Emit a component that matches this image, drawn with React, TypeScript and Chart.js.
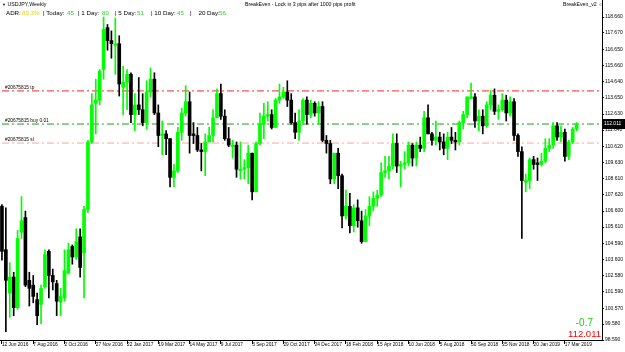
import React, { useEffect, useRef } from "react";
import { Chart, registerables } from "chart.js";

Chart.register(...registerables);

const weeks = [
  "12 Jun 2016","19 Jun 2016","26 Jun 2016","3 Jul 2016","10 Jul 2016","17 Jul 2016","24 Jul 2016","31 Jul 2016",
  "7 Aug 2016","14 Aug 2016","21 Aug 2016","28 Aug 2016","4 Sep 2016","11 Sep 2016","18 Sep 2016","25 Sep 2016",
  "2 Oct 2016","9 Oct 2016","16 Oct 2016","23 Oct 2016","30 Oct 2016","6 Nov 2016","13 Nov 2016","20 Nov 2016",
  "27 Nov 2016","4 Dec 2016","11 Dec 2016","18 Dec 2016","25 Dec 2016",
  "1 Jan 2017","8 Jan 2017","15 Jan 2017","22 Jan 2017","29 Jan 2017","5 Feb 2017","12 Feb 2017","19 Feb 2017",
  "26 Feb 2017","5 Mar 2017","12 Mar 2017","19 Mar 2017","26 Mar 2017","2 Apr 2017","9 Apr 2017","16 Apr 2017",
  "23 Apr 2017","30 Apr 2017","7 May 2017","14 May 2017","21 May 2017","28 May 2017","4 Jun 2017","11 Jun 2017",
  "18 Jun 2017","25 Jun 2017","2 Jul 2017","9 Jul 2017","16 Jul 2017","23 Jul 2017","30 Jul 2017","6 Aug 2017",
  "13 Aug 2017","20 Aug 2017","27 Aug 2017","3 Sep 2017","10 Sep 2017","17 Sep 2017","24 Sep 2017","1 Oct 2017",
  "8 Oct 2017","15 Oct 2017","22 Oct 2017","29 Oct 2017","5 Nov 2017","12 Nov 2017","19 Nov 2017","26 Nov 2017",
  "3 Dec 2017","10 Dec 2017","17 Dec 2017","24 Dec 2017","31 Dec 2017",
  "7 Jan 2018","14 Jan 2018","21 Jan 2018","28 Jan 2018","4 Feb 2018","11 Feb 2018","18 Feb 2018","25 Feb 2018",
  "4 Mar 2018","11 Mar 2018","18 Mar 2018","25 Mar 2018","1 Apr 2018","8 Apr 2018","15 Apr 2018","22 Apr 2018",
  "29 Apr 2018","6 May 2018","13 May 2018","20 May 2018","27 May 2018","3 Jun 2018","10 Jun 2018","17 Jun 2018",
  "24 Jun 2018","1 Jul 2018","8 Jul 2018","15 Jul 2018","22 Jul 2018","29 Jul 2018","5 Aug 2018","12 Aug 2018",
  "19 Aug 2018","26 Aug 2018","2 Sep 2018","9 Sep 2018","16 Sep 2018","23 Sep 2018","30 Sep 2018","7 Oct 2018",
  "14 Oct 2018","21 Oct 2018","28 Oct 2018","4 Nov 2018","11 Nov 2018","18 Nov 2018","25 Nov 2018","2 Dec 2018",
  "9 Dec 2018","16 Dec 2018","23 Dec 2018","30 Dec 2018",
  "6 Jan 2019","13 Jan 2019","20 Jan 2019","27 Jan 2019","3 Feb 2019","10 Feb 2019","17 Feb 2019","24 Feb 2019",
  "3 Mar 2019","10 Mar 2019","17 Mar 2019","24 Mar 2019","31 Mar 2019","7 Apr 2019"
];

const opens = [
  106.9,104.2,101.5,102.5,100.6,105.3,106.2,102.3,102.0,101.1,
  100.8,101.9,104.1,102.6,102.1,100.95,101.2,102.75,104.4,103.75,
  105.0,104.0,106.7,110.9,113.3,113.5,115.4,118.0,117.2,116.9,
  117.0,114.3,114.6,115.1,112.6,113.2,112.9,112.1,114.0,114.8,
  112.7,111.3,111.4,111.1,108.7,109.1,111.5,112.7,113.4,111.4,
  111.3,110.4,110.3,110.9,111.3,112.4,113.9,112.5,111.1,110.6,
  110.7,109.1,109.2,109.3,110.2,107.8,110.8,112.0,112.5,112.6,
  111.8,113.5,113.7,114.0,113.5,112.1,111.5,112.2,113.5,112.6,
  113.3,112.7,113.1,111.0,110.8,108.6,110.2,108.8,106.3,106.9,
  105.7,106.8,106.0,104.7,106.3,106.9,107.4,107.6,109.0,109.1,
  109.4,110.8,109.4,109.5,109.6,110.7,109.9,110.7,110.5,112.4,
  111.4,111.0,111.2,110.9,110.5,111.2,111.0,110.9,112.1,112.6,
  113.6,113.7,112.2,112.5,111.9,113.2,113.8,112.8,112.9,113.5,
  112.7,113.4,111.3,110.3,108.4,108.5,109.8,109.6,109.5,109.7,
  110.5,110.7,111.9,111.2,111.5,110.0,110.9,111.7
];
const highs = [
  107.0,106.8,103.4,102.8,105.4,107.5,106.6,102.8,102.6,101.5,
  102.0,104.2,104.2,103.0,102.3,101.8,104.2,104.6,104.5,105.5,
  105.5,106.9,111.0,113.9,114.8,115.4,118.66,118.2,117.8,118.6,
  117.5,115.6,115.4,115.2,113.9,114.9,113.9,114.7,115.5,115.2,
  113.2,112.2,111.6,111.1,109.5,111.8,113.0,114.4,114.0,112.1,
  111.8,110.8,111.4,111.8,112.9,114.2,114.5,112.9,111.8,111.0,
  110.9,110.9,109.8,110.7,110.2,110.9,112.7,113.3,113.4,112.9,
  113.6,114.5,114.3,114.7,113.9,112.7,112.9,113.6,113.7,113.5,
  113.4,113.4,113.4,111.3,111.0,110.2,110.5,108.9,107.9,107.7,
  107.0,107.3,106.6,106.7,107.5,107.8,107.9,109.6,110.0,110.0,
  111.4,111.4,109.7,110.3,110.9,110.8,110.9,111.2,112.8,113.2,
  111.5,112.2,111.5,111.4,111.5,111.8,111.5,112.2,112.8,113.7,
  114.55,113.9,112.9,112.9,113.4,114.1,114.2,113.2,113.9,113.8,
  113.7,113.6,111.4,110.6,108.9,109.9,110.0,109.9,110.2,111.1,
  111.1,112.1,112.1,111.9,111.7,111.0,111.8,112.1
];
const lows = [
  103.55,99.1,100.0,100.1,100.5,104.9,101.9,100.7,100.9,99.55,
  99.6,101.8,101.2,101.7,100.1,100.1,101.0,102.7,103.3,103.6,
  102.5,101.2,106.5,110.8,111.4,113.2,114.8,116.6,116.1,115.1,
  113.75,112.6,112.9,112.1,111.6,112.6,111.9,111.7,113.7,112.6,
  110.6,110.1,110.1,108.1,108.1,109.0,111.0,112.5,110.2,110.8,
  110.3,109.1,108.8,110.9,110.9,112.4,112.3,111.0,110.6,109.9,
  108.7,108.6,108.6,108.3,107.3,107.8,110.7,111.1,112.2,111.7,
  111.8,113.3,113.6,113.1,112.0,111.1,111.0,112.0,112.0,112.4,
  112.5,112.0,110.9,110.2,108.3,108.3,108.0,105.55,106.1,105.25,
  105.3,105.6,104.6,104.7,105.7,106.6,106.9,107.5,108.7,108.6,
  109.2,109.0,108.1,109.2,109.4,109.4,109.4,110.3,110.3,111.4,
  110.7,110.7,110.4,110.1,109.8,110.8,110.4,110.7,111.7,112.4,
  113.6,111.8,111.6,111.4,111.8,112.9,112.6,112.3,112.8,112.2,
  112.5,111.0,110.0,104.9,107.8,108.0,109.2,108.5,109.4,109.6,
  110.3,110.5,111.0,110.9,109.7,109.8,110.8,111.6
];
const closes = [
  104.1,102.3,102.5,100.6,104.9,106.0,102.0,101.8,101.3,100.1,
  101.8,103.9,102.6,102.2,101.0,101.3,102.9,104.2,103.75,104.7,
  103.1,106.7,110.9,113.2,113.5,115.3,117.9,117.2,117.0,117.0,
  114.5,114.6,115.1,112.6,113.2,112.9,112.1,114.0,114.8,112.7,
  111.3,111.4,111.1,108.7,109.1,111.5,112.7,113.4,111.3,111.3,
  110.4,110.3,110.9,111.3,112.4,113.9,112.5,111.1,110.7,110.7,
  109.2,109.2,109.3,110.2,107.8,110.8,112.0,112.5,112.6,111.8,
  113.5,113.7,114.0,113.5,112.1,111.5,112.2,113.5,112.6,113.3,
  112.7,113.1,111.0,110.8,108.6,110.2,108.8,106.3,106.9,105.7,
  106.8,106.0,104.7,106.3,106.9,107.4,107.6,109.0,109.1,109.4,
  110.8,109.4,109.5,109.6,110.7,109.9,110.7,110.5,112.4,111.4,
  111.0,111.2,110.9,110.5,111.2,111.0,110.9,112.1,112.6,113.7,
  113.7,112.2,112.5,111.9,113.2,113.8,112.8,112.9,113.5,112.7,
  113.4,111.3,110.3,108.5,108.5,109.8,109.5,109.5,109.7,110.5,
  110.7,111.9,111.2,111.5,110.0,110.9,111.7,112.011
];

const emptySlots = 6;

const dateTicks = [
  "12 Jun 2016","7 Aug 2016","2 Oct 2016","27 Nov 2016","22 Jan 2017","19 Mar 2017","14 May 2017",
  "9 Jul 2017","3 Sep 2017","29 Oct 2017","24 Dec 2017","18 Feb 2018","15 Apr 2018","10 Jun 2018",
  "5 Aug 2018","30 Sep 2018","25 Nov 2018","20 Jan 2019","17 Mar 2019"
];

const priceTicks = [
  118.66,117.67,116.65,115.66,114.64,113.65,112.63,111.64,110.62,109.63,108.61,
  107.62,106.6,105.61,104.59,103.6,102.58,101.59,100.57,99.58,98.59
];

const priceMin = 98.59;
const priceMax = 119.72;

const orderLabels = ["#20675815 tp", "#20675815 buy 0.01", "#20675815 sl"];
const orderLevels = [114.07, 112.011, 110.83];
const orderColors = ["#ff2020", "#1a9a1a", "#ffa0a0"];

const bidPrice = 112.011;
const profitText = "-0.7";

const statLabels = ["ADR:", "| Today:", "| 1 Day:", "| 5 Day:", "| 10 Day:", "|    20 Day:"];
const statValues = ["89.3%", "45", "80", "51", "45", "56"];

const BULL = "#00ff00";
const BEAR = "#000000";
const FONT = '"Liberation Sans", Arial, sans-serif';

const overlayPlugin = {
  id: "mtOverlay",
  afterDraw(chart: any) {
    const { ctx, chartArea } = chart;
    const y = chart.scales.y;
    ctx.save();
    ctx.font = `4.8px ${FONT}`;
    ctx.fillStyle = "#000";
    ctx.textAlign = "left";
    ctx.textBaseline = "bottom";
    orderLabels.forEach((t, i) => {
      ctx.fillText(t, 5, y.getPixelForValue(orderLevels[i]) - 1);
    });
    const py = y.getPixelForValue(bidPrice);
    ctx.fillStyle = "#000";
    ctx.fillRect(chartArea.right, Math.round(py) - 5, 23, 10);
    ctx.fillStyle = "#fff";
    ctx.font = `5px ${FONT}`;
    ctx.textBaseline = "middle";
    ctx.fillText(bidPrice.toFixed(3), chartArea.right + 2, py);
    ctx.restore();
  },
};

export default function App() {
  const canvasRef = useRef<HTMLCanvasElement | null>(null);

  useEffect(() => {
    const canvas = canvasRef.current;
    if (!canvas) return;
    const labels = [...weeks, ...Array(emptySlots).fill("")];
    const colors = opens.map((o, i) => (closes[i] >= o ? BULL : BEAR));
    const chart = new Chart(canvas, {
      type: "bar",
      data: {
        labels,
        datasets: [
          {
            type: "bar",
            data: opens.map((o, i) => [o, closes[i]]),
            backgroundColor: colors,
            borderWidth: 0,
            barThickness: 3,
            minBarLength: 1,
            grouped: false,
            order: 1,
          } as any,
          {
            type: "bar",
            data: lows.map((l, i) => [l, highs[i]]),
            backgroundColor: colors,
            borderWidth: 0,
            barThickness: 1,
            grouped: false,
            order: 2,
          } as any,
          ...orderLevels.map((v, i) => ({
            type: "line",
            data: labels.map(() => v),
            borderColor: orderColors[i],
            borderWidth: 1,
            borderDash: [7, 3, 2, 3],
            pointRadius: 0,
            order: 5,
          })) as any,
        ],
      },
      options: {
        responsive: false,
        maintainAspectRatio: false,
        animation: false,
        layout: { padding: 0 },
        plugins: { legend: { display: false }, tooltip: { enabled: false } },
        scales: {
          x: {
            type: "category",
            offset: true,
            grid: { drawOnChartArea: false, offset: false, tickLength: 4, color: "#000" },
            border: { display: true, color: "#000" },
            ticks: {
              autoSkip: false,
              maxRotation: 0,
              minRotation: 0,
              align: "start",
              padding: -2,
              color: "#000",
              font: { size: 4.8, family: FONT },
              callback: (v: any) => labels[v],
            },
            afterBuildTicks: (s: any) => {
              s.ticks = s.ticks.filter((t: any) => dateTicks.includes(labels[t.value]));
            },
            afterFit: (s: any) => {
              s.height = 12;
              s.paddingLeft = 0;
              s.paddingRight = 0;
            },
          },
          y: {
            position: "right",
            min: priceMin,
            max: priceMax,
            grid: { drawOnChartArea: false, tickLength: 2, color: "#000" },
            border: { display: true, color: "#000" },
            ticks: {
              autoSkip: false,
              padding: 1,
              color: "#000",
              font: { size: 5, family: FONT },
              callback: (v: any) => Number(v).toFixed(3),
            },
            afterBuildTicks: (s: any) => {
              s.ticks = priceTicks.map((v) => ({ value: v }));
            },
            afterFit: (s: any) => {
              s.width = 23;
              s.paddingTop = 0;
              s.paddingBottom = 0;
            },
          },
        },
      } as any,
      plugins: [overlayPlugin],
    });
    return () => chart.destroy();
  }, []);

  const statX = [6, 43, 78, 115, 151, 190];
  const valX = [22, 67, 102, 137, 177, 219];

  return (
    <div
      style={{
        position: "fixed",
        left: 0,
        top: 0,
        width: 625,
        height: 352,
        background: "#fff",
        fontFamily: FONT,
        overflow: "hidden",
      }}
    >
      <canvas ref={canvasRef} width={625} height={352} style={{ position: "absolute", left: 0, top: 0 }} />
      <div style={{ position: "absolute", left: 2, top: 1, fontSize: 5.3, lineHeight: "7px", color: "#000", whiteSpace: "nowrap" }}>
        <span style={{ fontSize: 4 }}>▼</span> USDJPY,Weekly
      </div>
      <div style={{ position: "absolute", left: 245, top: 1, fontSize: 5.2, lineHeight: "7px", color: "#000", whiteSpace: "nowrap" }}>
        BreakEven - Lock in 3 pips after 1000 pips profit
      </div>
      <div style={{ position: "absolute", left: 563, top: 1, fontSize: 5.2, lineHeight: "7px", color: "#000", whiteSpace: "nowrap" }}>
        BreakEven_v2 ☺
      </div>
      {statLabels.map((t, i) => (
        <div key={"l" + i} style={{ position: "absolute", left: statX[i], top: 9, fontSize: 6.2, lineHeight: "8px", color: "#000", whiteSpace: "pre" }}>
          {t}
        </div>
      ))}
      {statValues.map((t, i) => (
        <div key={"v" + i} style={{ position: "absolute", left: valX[i], top: 9, fontSize: 6.2, lineHeight: "8px", color: i === 0 ? "#e0d800" : "#2ad42a", whiteSpace: "pre" }}>
          {t}
        </div>
      ))}
      <div style={{ position: "absolute", right: 32, top: 317, fontSize: 10, lineHeight: "12px", color: "#22cc22", whiteSpace: "nowrap" }}>
        {profitText}
      </div>
      <div style={{ position: "absolute", right: 24, top: 328, fontSize: 9.5, lineHeight: "11px", color: "#ff0000", whiteSpace: "nowrap" }}>
        {bidPrice.toFixed(3)}
      </div>
    </div>
  );
}
